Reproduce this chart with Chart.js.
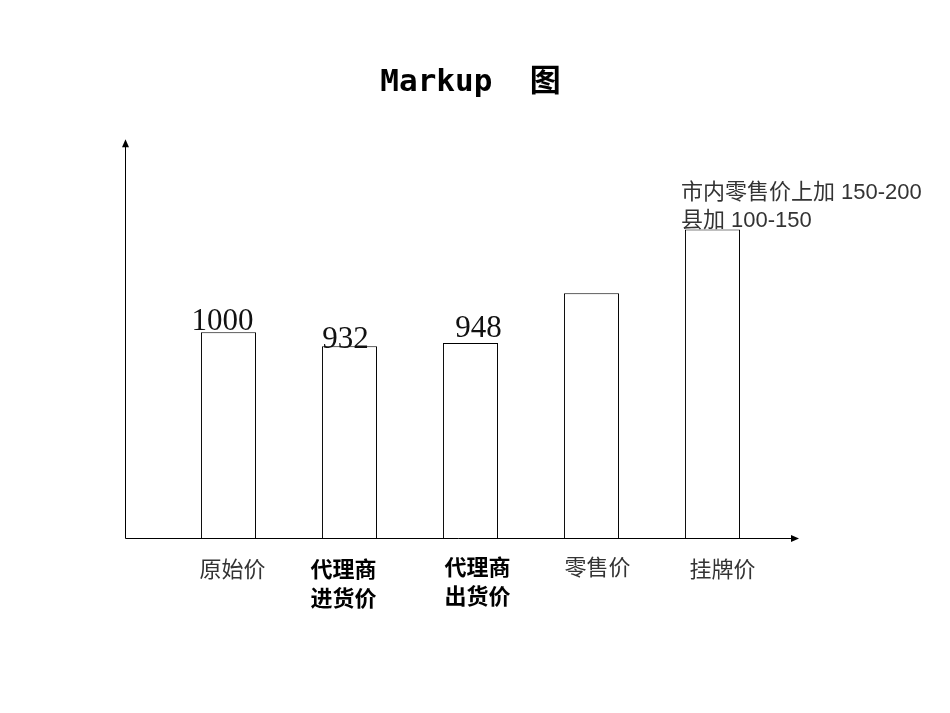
<!DOCTYPE html>
<html>
<head>
<meta charset="utf-8">
<script src="https://cdn.jsdelivr.net/npm/chart.js@4"></script>
<style>
  html, body { margin: 0; padding: 0; background: #fff; }
  #wrap { width: 950px; height: 713px; }
</style>
</head>
<body>
<div id="wrap"><canvas id="c"></canvas></div>
<script>
// ---- data ----
const categories = [["原始价"], ["代理商", "进货价"], ["代理商", "出货价"], ["零售价"], ["挂牌价"]];
const categoryBold = [false, true, true, false, false];
const prices = [1000, 932, 948, 1190, 1500];
const valueLabels = ["1000", "932", "948", "", ""];
const noteLines = ["市内零售价上加 150-200", "县加 100-150"];
const titleText = "Markup  图";

// ---- drawing helpers (positions/styles only) ----
const labelDx = [-6, -4, 8];
const labelDy = [-2, 2, -6];
const catDx = [4, -6, 7, 6, 10];
const catDy = [31, 31, 29, 29, 31];

const overlay = {
  id: 'overlay',
  afterDraw(chart) {
    const ctx = chart.ctx;
    const area = chart.chartArea;
    const meta = chart.getDatasetMeta(0);
    const xs = chart.scales.x;
    ctx.save();
    // axes with arrows
    const ox = area.left - 42.5, oy = area.bottom + 0.5;
    const topY = area.top - 8, rightX = area.right + 26;
    ctx.strokeStyle = '#000';
    ctx.fillStyle = '#000';
    ctx.lineWidth = 1;
    ctx.beginPath();
    ctx.moveTo(ox, oy); ctx.lineTo(ox, topY + 6);
    ctx.moveTo(ox, oy); ctx.lineTo(rightX - 7, oy);
    ctx.stroke();
    ctx.beginPath();
    ctx.moveTo(ox, topY); ctx.lineTo(ox - 3.5, topY + 8); ctx.lineTo(ox + 3.5, topY + 8); ctx.closePath();
    ctx.fill();
    ctx.beginPath();
    ctx.moveTo(rightX, oy); ctx.lineTo(rightX - 8, oy - 3.5); ctx.lineTo(rightX - 8, oy + 3.5); ctx.closePath();
    ctx.fill();

    // value labels
    ctx.font = '31px "Liberation Serif", "DejaVu Serif", serif';
    ctx.textAlign = 'center';
    ctx.textBaseline = 'alphabetic';
    ctx.fillStyle = '#111';
    valueLabels.forEach((t, i) => {
      if (!t) return;
      const bar = meta.data[i];
      ctx.fillText(t, bar.x + labelDx[i], bar.y + labelDy[i]);
    });

    // category labels
    ctx.textBaseline = 'middle';
    categories.forEach((lines, i) => {
      const cx = xs.getPixelForValue(i) + catDx[i];
      ctx.font = (categoryBold[i] ? '600 ' : '') + '22px "Noto Sans CJK SC", sans-serif';
      ctx.fillStyle = categoryBold[i] ? '#000' : '#333';
      lines.forEach((ln, k) => {
        ctx.fillText(ln, cx, area.bottom + catDy[i] + k * 29);
      });
    });

    // note above last bar
    const last = meta.data[meta.data.length - 1];
    ctx.textAlign = 'left';
    ctx.font = '22px "Liberation Sans", "Noto Sans CJK SC", sans-serif';
    ctx.fillStyle = '#333';
    const nx = last.x - last.width / 2 - 4;
    ctx.fillText(noteLines[0], nx, last.y - 37);
    ctx.fillText(noteLines[1], nx, last.y - 9);
    ctx.restore();
  }
};

new Chart(document.getElementById('c'), {
  type: 'bar',
  data: {
    labels: categories.map(l => l.join('')),
    datasets: [{
      data: prices,
      backgroundColor: '#fff',
      borderColor: '#000',
      borderWidth: 1,
      borderSkipped: 'bottom',
      categoryPercentage: 1,
      barPercentage: 0.455
    }]
  },
  options: {
    responsive: true,
    maintainAspectRatio: false,
    animation: false,
    layout: { padding: { left: 168, right: 177, top: 0, bottom: 175 } },
    plugins: {
      legend: { display: false },
      tooltip: { enabled: false },
      title: {
        display: true,
        text: titleText,
        color: '#000',
        font: { family: '"DejaVu Sans Mono", "Noto Sans CJK SC", monospace', size: 31, weight: 'bold', lineHeight: 1.2 },
        padding: { top: 64, bottom: 46 }
      }
    },
    scales: {
      x: { display: false, grid: { display: false } },
      y: { display: false, min: 0, max: 1900, grid: { display: false } }
    }
  },
  plugins: [overlay]
});
</script>
</body>
</html>
